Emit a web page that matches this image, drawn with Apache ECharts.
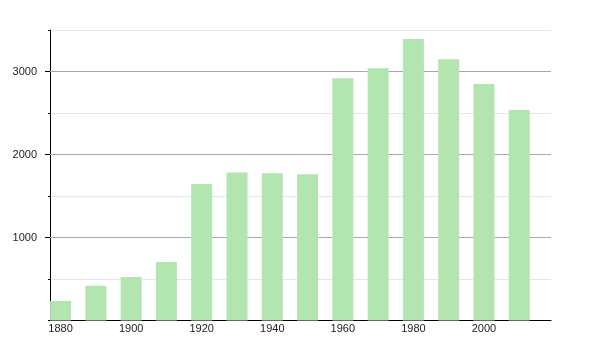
<!DOCTYPE html>
<html>
<head>
<meta charset="utf-8">
<script src="https://cdn.jsdelivr.net/npm/echarts@6/dist/echarts.min.js"></script>
<style>html,body{margin:0;padding:0;background:#fff;}#c{width:600px;height:350px;}</style>
</head>
<body>
<div id="c"></div>
<script>
const years = [1880, 1890, 1900, 1910, 1920, 1930, 1940, 1950, 1960, 1970, 1980, 1990, 2000, 2010];
const population = [235, 419, 524, 705, 1645, 1784, 1773, 1761, 2918, 3039, 3392, 3147, 2849, 2536];
const xTickLabels = [1880, 1900, 1920, 1940, 1960, 1980, 2000];
const yMajorTicks = [1000, 2000, 3000];

const chart = echarts.init(document.getElementById('c'), null, {renderer: 'canvas'});
const font = 'Liberation Sans, Arial, sans-serif';
chart.setOption({
  animation: false,
  grid: {left: 50, right: 49, top: 30, bottom: 29.5, containLabel: false},
  xAxis: {
    type: 'value', min: 1877, max: 2019,
    axisLine: {show: true, onZero: false, lineStyle: {color: '#000', width: 1}},
    axisTick: {show: false},
    splitLine: {show: false},
    axisLabel: {
      customValues: xTickLabels, margin: 3,
      color: '#222', fontSize: 11, fontFamily: font,
      formatter: v => String(v)
    }
  },
  yAxis: [
    {
      type: 'value', min: 0, max: 3500, interval: 500,
      axisLine: {show: true, lineStyle: {color: '#000', width: 1}},
      axisTick: {show: true, length: 2, lineStyle: {color: '#000'}},
      splitLine: {show: true, lineStyle: {color: '#e6e6e6', width: 1}},
      axisLabel: {show: false}
    },
    {
      type: 'value', min: 0, max: 3500, position: 'left',
      axisLine: {show: false},
      axisTick: {show: true, customValues: yMajorTicks, length: 5, lineStyle: {color: '#000'}},
      splitLine: {show: false},
      axisLabel: {
        customValues: yMajorTicks, margin: 13,
        color: '#222', fontSize: 11, fontFamily: font,
        formatter: v => String(v)
      }
    }
  ],
  series: [
    {
      type: 'line', yAxisIndex: 1, data: [], silent: true, z: 1,
      markLine: {
        symbol: 'none', silent: true, label: {show: false}, z: 1,
        lineStyle: {color: '#a8a8a8', width: 1, type: 'solid'},
        data: yMajorTicks.map(v => ({yAxis: v}))
      }
    },
    {
      type: 'bar', yAxisIndex: 0, barWidth: 21, z: 3,
      itemStyle: {color: '#b3e5b0'},
      data: years.map((y, i) => [y, population[i]])
    }
  ]
});
</script>
</body>
</html>
